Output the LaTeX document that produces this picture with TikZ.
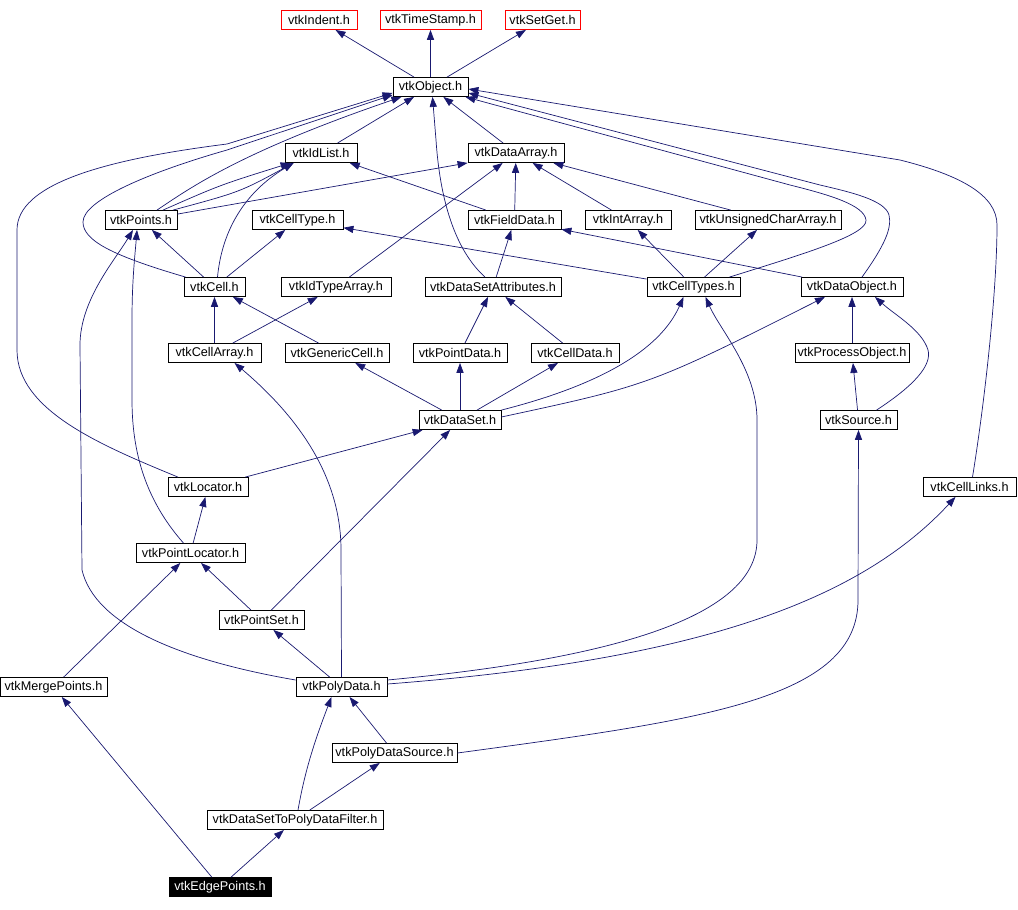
\documentclass[tikz,border=0pt]{standalone}
\usepackage{fontspec}
\setmainfont{Liberation Sans}
\usetikzlibrary{arrows.meta, calc}
\definecolor{edgeblue}{HTML}{191970}

\begin{document}
\begin{tikzpicture}[
  x=0.025cm, y=-0.025cm,
  file/.style={rectangle, draw, fill=white, line width=0.6pt, inner sep=0pt,
               minimum height=0.475cm, minimum width=#1*0.025cm,
               font=\fontsize{9}{10}\selectfont},
  nodoc/.style={file=#1, draw=red},
  current/.style={file=#1, fill=black, text=white},
  dep/.style={-{Triangle[length=0.25cm, width=0.18cm]}, color=edgeblue, line width=0.5pt},
]
\useasboundingbox (0,0) rectangle (1018,909);

\node[nodoc=76] (indent) at (319,20) {vtkIndent.h};
\node[nodoc=101] (timestamp) at (430.5,20) {vtkTimeStamp.h};
\node[nodoc=75] (setget) at (542.5,20) {vtkSetGet.h};
\node[file=75] (object) at (430.5,87) {vtkObject.h};
\node[file=72] (idlist) at (321,153) {vtkIdList.h};
\node[file=96] (dataarray) at (516,153) {vtkDataArray.h};
\node[file=72] (points) at (141,220) {vtkPoints.h};
\node[file=91] (celltype) at (297.5,220) {vtkCellType.h};
\node[file=93] (fielddata) at (514.5,220) {vtkFieldData.h};
\node[file=86] (intarray) at (628,220) {vtkIntArray.h};
\node[file=146] (uchararray) at (768,220) {vtkUnsignedCharArray.h};
\node[file=61] (cell) at (214.5,287) {vtkCell.h};
\node[file=110] (idtypearray) at (336,287) {vtkIdTypeArray.h};
\node[file=136] (dsattributes) at (493,287) {vtkDataSetAttributes.h};
\node[file=93] (celltypes) at (693.5,287) {vtkCellTypes.h};
\node[file=102] (dataobject) at (852,287) {vtkDataObject.h};
\node[file=93] (cellarray) at (214.5,353) {vtkCellArray.h};
\node[file=104] (genericcell) at (337,353) {vtkGenericCell.h};
\node[file=94] (pointdata) at (460,353) {vtkPointData.h};
\node[file=88] (celldata) at (575,353) {vtkCellData.h};
\node[file=114] (processobject) at (852,353) {vtkProcessObject.h};
\node[file=82] (dataset) at (460,420) {vtkDataSet.h};
\node[file=77] (source) at (858.5,420) {vtkSource.h};
\node[file=80] (locator) at (208,487) {vtkLocator.h};
\node[file=93] (celllinks) at (969.5,487) {vtkCellLinks.h};
\node[file=109] (pointlocator) at (190.5,553) {vtkPointLocator.h};
\node[file=85] (pointset) at (261.5,620) {vtkPointSet.h};
\node[file=107] (mergepoints) at (53.5,687) {vtkMergePoints.h};
\node[file=91] (polydata) at (341.5,687) {vtkPolyData.h};
\node[file=125] (polydatasource) at (394.5,753) {vtkPolyDataSource.h};
\node[file=176] (dstopd) at (295,820) {vtkDataSetToPolyDataFilter.h};
\node[current=102] (edgepoints) at (220,887) {vtkEdgePoints.h};

\draw[dep] (object) -- (indent);
\draw[dep] (object) -- (timestamp);
\draw[dep] (object) -- (setget);
\draw[dep] (idlist) -- (object);
\draw[dep] (dataarray) -- (object);
\draw[dep] ($(points.north)+(16,0)$) .. controls (190,188) and (240,152) .. (object);
\draw[dep] ($(points.north)+(22,0)$) .. controls (220,185) .. ($(idlist.south west)+(6,0)$);
\draw[dep] ($(points.north)+(32,0)$) .. controls (240,192) .. ($(idlist.south west)+(9,0)$);
\draw[dep] ($(points.north east)+(0,4)$) -- (dataarray.south west);
\draw[dep] ($(cell.north west)+(2,0)$) .. controls (110,255) and (83,240) .. (83,222)
  .. controls (83,200) and (150,172) .. (227,150) -- ($(object.south west)+(0,-2)$);
\draw[dep] (cell) -- (points);
\draw[dep] (cell) -- (celltype);
\draw[dep] ($(cell.north)+(3,0)$) .. controls (222,230) and (245,192) .. ($(idlist.south west)+(9,0)$);
\draw[dep] (idtypearray) -- (dataarray);
\draw[dep] (fielddata) -- (dataarray);
\draw[dep] (fielddata) -- (idlist);
\draw[dep] (intarray) -- (dataarray);
\draw[dep] (uchararray) -- (dataarray);
\draw[dep] ($(dsattributes.north)+(-8,0)$) .. controls (455,250) and (440,200) .. (436,140)
  -- ($(object.south)+(2,0)$);
\draw[dep] (dsattributes) -- (fielddata);
\draw[dep] (celltypes) -- (celltype);
\draw[dep] (celltypes) -- (intarray);
\draw[dep] (celltypes) -- (uchararray);
\draw[dep] ($(celltypes.north)+(36,0)$) .. controls (800,255) and (868,235) .. (866,220)
  .. controls (864,205) and (830,195) .. (790,185) -- ($(object.south east)+(-3,0)$);
\draw[dep] ($(dataobject.north)+(10,0)$) .. controls (885,245) and (892,228) .. (889,215)
  .. controls (885,200) and (850,192) .. (820,185) -- ($(object.east)+(0,6)$);
\draw[dep] (dataobject) -- (fielddata);
\draw[dep] (cellarray) -- (cell);
\draw[dep] (cellarray) -- (idtypearray);
\draw[dep] (genericcell) -- (cell);
\draw[dep] (pointdata) -- (dsattributes);
\draw[dep] (celldata) -- (dsattributes);
\draw[dep] (processobject) -- (dataobject);
\draw[dep] (dataset) -- (genericcell);
\draw[dep] (dataset) -- (pointdata);
\draw[dep] (dataset) -- (celldata);
\draw[dep] (dataset.north east) .. controls (600,385) and (660,350) .. ($(celltypes.south)+(-10,0)$);
\draw[dep] ($(dataset.east)+(0,-3)$) .. controls (650,385) .. ($(dataobject.south)+(-27,0)$);
\draw[dep] (source) -- (processobject);
\draw[dep] ($(source.north)+(18,0)$) .. controls (915,385) and (932,365) .. (928,350)
  .. controls (922,330) and (895,315) .. ($(dataobject.south)+(23,0)$);
\draw[dep] ($(locator.north)+(-30,0)$) .. controls (100,445) and (17,410) .. (17,350)
  -- (17,230) .. controls (17,185) and (100,160) .. (227,144) -- ($(object.south west)+(0,-4)$);
\draw[dep] (locator) -- (dataset);
\draw[dep] ($(celllinks.north)+(3,0)$) .. controls (985,400) and (997,290) .. (997,225)
  .. controls (997,195) and (960,175) .. (900,160) -- ($(object.east)+(0,2)$);
\draw[dep] (pointlocator) -- (locator);
\draw[dep] ($(pointlocator.north)+(-7,0)$) .. controls (150,505) and (132,460) .. (132,400)
  -- (132,320) .. controls (132,280) and (135,255) .. ($(points.south)+(-4,0)$);
\draw[dep] (pointset) -- (pointlocator);
\draw[dep] (pointset) -- (dataset);
\draw[dep] (mergepoints) -- (pointlocator);
\draw[dep] (polydata) -- (pointset);
\draw[dep] ($(polydata.west)+(0,-7)$) .. controls (180,660) and (95,625) .. (82,570)
  -- (80,345) .. controls (80,300) and (115,260) .. ($(points.south)+(-8,0)$);
\draw[dep] (polydata.north) -- (341,550) .. controls (341,470) and (290,410) .. ($(cellarray.south)+(20,0)$);
\draw[dep] ($(polydata.east)+(0,-7)$) .. controls (600,660) and (757,620) .. (757,540)
  -- (757,420) .. controls (757,370) and (720,330) .. ($(celltypes.south)+(12,0)$);
\draw[dep] ($(polydata.east)+(0,-3)$) .. controls (700,660) and (860,600) .. ($(celllinks.south)+(-14,0)$);
\draw[dep] (polydatasource) -- (polydata);
\draw[dep] (polydatasource.east) .. controls (700,720) and (858,700) .. (858,600) -- (source.south);
\draw[dep] ($(dstopd.north)+(3,0)$) .. controls (305,770) and (315,740) .. ($(polydata.south)+(-10,0)$);
\draw[dep] (dstopd) -- (polydatasource);
\draw[dep] (edgepoints) -- (dstopd);
\draw[dep] (edgepoints) -- (mergepoints);
\end{tikzpicture}
\end{document}
